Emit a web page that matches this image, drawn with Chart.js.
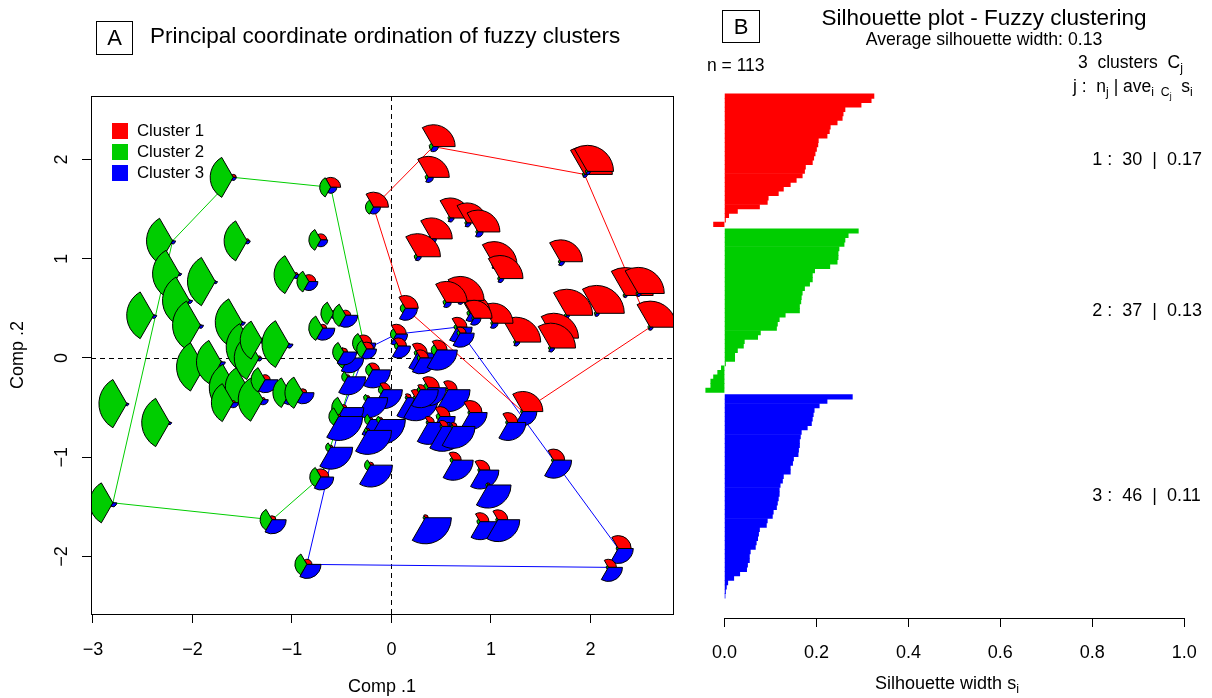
<!DOCTYPE html>
<html>
<head>
<meta charset="utf-8">
<title>Fuzzy clusters</title>
<script src="https://cdn.jsdelivr.net/npm/chart.js@4.4.1/dist/chart.umd.min.js"></script>
<style>
  html, body { margin: 0; padding: 0; background: #fff; }
  #page { position: relative; width: 1212px; height: 698px; overflow: hidden;
          font-family: "Liberation Sans", Arial, Helvetica, sans-serif; color: #000; }
  canvas { position: absolute; top: 0; }
  #ordChart { left: 0; }
  #silChart { left: 690px; }
  .lbl { position: absolute; white-space: pre; line-height: 1; }
  .panelTag { position: absolute; box-sizing: border-box; border: 1px solid #000;
              text-align: center; font-size: 22px; }
  sub { font-size: 70%; vertical-align: -0.3em; line-height: 0; }
  #legend { position: absolute; left: 112px; top: 120px; }
  .legRow { display: flex; align-items: center; height: 21.3px; font-size: 16.8px; }
  .legSwatch { width: 16px; height: 16px; margin-right: 9px; }
</style>
</head>
<body>
<div id="page">
  <canvas id="ordChart" width="690" height="698"></canvas>
  <canvas id="silChart" width="522" height="698"></canvas>

  <div class="panelTag" style="left:96px;top:21px;width:37px;height:34px;line-height:32px;">A</div>
  <div class="lbl" style="left:150px;top:25px;font-size:22.5px;">Principal coordinate ordination of fuzzy clusters</div>
  <div id="legend"></div>

  <div class="panelTag" style="left:722px;top:10px;width:38px;height:33px;line-height:31px;">B</div>
  <div class="lbl" style="left:684px;width:600px;text-align:center;top:7px;font-size:22.5px;">Silhouette plot - Fuzzy clustering</div>
  <div class="lbl" id="avgWidth" style="left:684px;width:600px;text-align:center;top:31px;font-size:17.7px;"></div>
  <div class="lbl" id="nCount" style="left:707px;top:57px;font-size:17.5px;"></div>
  <div class="lbl" id="kCount" style="left:1078px;top:54px;font-size:17.5px;"></div>
  <div class="lbl" style="left:1073px;top:78px;font-size:17.5px;">j :  n<sub>j</sub> | ave<sub>i  C<sub>j</sub></sub>  s<sub>i</sub></div>
  <div class="lbl" style="left:747px;width:400px;text-align:center;top:674px;font-size:18px;">Silhouette width s<sub>i</sub></div>
</div>

<script>
const clusterNames = ['Cluster 1', 'Cluster 2', 'Cluster 3'];
const clusterColors = ['#ff0000', '#00cd00', '#0000ff'];

// sites on the first two principal coordinates, grouped by hard cluster
const ptX = [
  0.42, 0.37, 1.94, 1.97, -0.18, 0.59, 0.76, 0.87, 0.40, 0.26,
  1.03, 1.09, 1.70, 2.35, 2.48, 2.60, 1.76, 2.06, 1.63, 1.60,
  1.25, 1.02, 0.79, 0.69, 0.55, 0.14, 1.32, 0.83,
  -1.59, -2.20, -2.13, -2.03, -1.92, -1.77, -1.45, -2.39, -1.88, -1.71,
  -1.50, -1.39, -1.33, -1.30, -1.03, -1.56, -1.45, -1.29, -1.59, -1.27,
  -1.02, -0.89, -0.69, -0.58, -0.46, -0.71, -0.96, -0.83, -0.61, -2.66,
  -2.23, -2.80, -1.20, -0.71, -0.28,
  -0.25, 0.05, 0.66, 0.69, 1.63, 2.28, 2.18, -0.85, 0.07, 0.26,
  0.29, 0.46, -0.43, -0.48, -0.19, -0.44, -0.08, -0.24, -0.21, -0.11,
  -0.48, -0.46, 0.16, 0.24, 0.37, 0.57, 0.49, 0.79, 1.17, 0.62,
  0.89, 0.97, 0.34, 0.89, 1.07, -0.21, -0.61, 0.37, 0.51, 0.62,
  -0.53, -0.24, 0.29
];
const ptY = [
  2.13, 1.82, 1.85, 1.88, 1.52, 1.41, 1.36, 1.27, 1.20, 1.02,
  0.94, 0.80, 0.97, 0.63, 0.65, 0.31, 0.43, 0.45, 0.20, 0.10,
  0.16, 0.35, 0.45, 0.58, 0.56, 0.50, -0.54, 0.40,
  1.82, 1.18, 0.85, 0.58, 0.33, 0.77, 1.18, 0.43, -0.09, -0.04,
  0.36, 0.11, 0.00, 0.18, 0.14, -0.30, -0.29, -0.42, -0.45, -0.22,
  -0.35, -0.35, 0.30, 0.45, 0.43, 1.19, 0.84, 0.77, 1.72, -0.46,
  -0.65, -1.46, -1.63, -1.20, 0.15,
  0.09, 0.24, 0.31, 0.25, -1.03, -1.92, -2.11, -2.08, 0.12, 0.05,
  0.00, 0.08, 0.00, 0.06, -0.12, -0.19, -0.32, -0.40, -0.62, -0.62,
  -0.50, -0.62, -0.40, -0.40, -0.30, -0.32, -0.59, -0.55, -0.65, -1.03,
  -1.13, -1.28, -1.61, -1.65, -1.63, -1.08, -0.90, -0.65, -0.69, -0.69,
  -0.59, -0.73, -0.32
];
// fuzzy memberships drawn as segment glyphs
const memRed = [
  0.73, 0.70, 0.93, 0.87, 0.50, 0.67, 0.67, 0.73, 0.70, 0.77,
  0.77, 0.77, 0.73, 0.93, 0.87, 0.87, 0.87, 0.93, 0.83, 0.83,
  0.83, 0.67, 0.67, 0.80, 0.70, 0.43, 0.67, 0.60,
  0.10, 0.03, 0.03, 0.03, 0.03, 0.03, 0.07, 0.03, 0.03, 0.03,
  0.03, 0.03, 0.07, 0.07, 0.03, 0.07, 0.07, 0.07, 0.07, 0.17,
  0.10, 0.13, 0.13, 0.10, 0.17, 0.20, 0.07, 0.23, 0.33, 0.03,
  0.03, 0.03, 0.13, 0.27, 0.27,
  0.23, 0.33, 0.33, 0.20, 0.37, 0.43, 0.27, 0.17, 0.27, 0.33,
  0.27, 0.33, 0.17, 0.13, 0.23, 0.07, 0.23, 0.07, 0.07, 0.07,
  0.10, 0.07, 0.13, 0.27, 0.37, 0.30, 0.33, 0.40, 0.33, 0.27,
  0.33, 0.07, 0.10, 0.30, 0.33, 0.10, 0.07, 0.20, 0.20, 0.13,
  0.07, 0.07, 0.17
];
const memGreen = [
  0.13, 0.10, 0.07, 0.07, 0.27, 0.07, 0.07, 0.07, 0.10, 0.10,
  0.07, 0.07, 0.07, 0.07, 0.07, 0.07, 0.07, 0.07, 0.07, 0.07,
  0.07, 0.07, 0.10, 0.07, 0.10, 0.17, 0.07, 0.07,
  0.77, 0.87, 0.90, 0.90, 0.93, 0.93, 0.77, 0.90, 0.93, 0.83,
  0.90, 0.90, 0.83, 0.73, 0.90, 0.90, 0.73, 0.83, 0.73, 0.47,
  0.57, 0.60, 0.47, 0.43, 0.43, 0.40, 0.73, 0.40, 0.37, 0.93,
  0.93, 0.77, 0.40, 0.37, 0.37,
  0.33, 0.20, 0.10, 0.10, 0.07, 0.07, 0.07, 0.40, 0.13, 0.10,
  0.10, 0.20, 0.40, 0.37, 0.23, 0.20, 0.17, 0.13, 0.20, 0.13,
  0.40, 0.13, 0.07, 0.07, 0.17, 0.07, 0.13, 0.07, 0.07, 0.10,
  0.07, 0.07, 0.07, 0.10, 0.07, 0.20, 0.17, 0.07, 0.07, 0.07,
  0.33, 0.10, 0.10
];
const memBlue = [
  0.17, 0.17, 0.10, 0.10, 0.23, 0.13, 0.13, 0.17, 0.17, 0.13,
  0.13, 0.13, 0.13, 0.07, 0.10, 0.10, 0.10, 0.10, 0.13, 0.13,
  0.13, 0.17, 0.27, 0.13, 0.17, 0.40, 0.47, 0.23,
  0.10, 0.10, 0.07, 0.10, 0.10, 0.07, 0.10, 0.10, 0.10, 0.13,
  0.10, 0.10, 0.10, 0.10, 0.13, 0.17, 0.13, 0.17, 0.17, 0.43,
  0.40, 0.37, 0.40, 0.17, 0.40, 0.23, 0.13, 0.30, 0.20, 0.07,
  0.07, 0.13, 0.47, 0.43, 0.40,
  0.33, 0.37, 0.50, 0.47, 0.60, 0.50, 0.47, 0.47, 0.40, 0.57,
  0.53, 0.67, 0.50, 0.43, 0.60, 0.60, 0.63, 0.67, 0.57, 0.83,
  0.67, 0.53, 0.70, 0.77, 0.60, 0.73, 0.50, 0.57, 0.60, 0.67,
  0.63, 0.77, 0.87, 0.60, 0.73, 0.73, 0.73, 0.73, 0.83, 0.73,
  0.80, 0.80, 0.60
];
const ptCluster = [
  1, 1, 1, 1, 1, 1, 1, 1, 1, 1,
  1, 1, 1, 1, 1, 1, 1, 1, 1, 1,
  1, 1, 1, 1, 1, 1, 1, 1,
  2, 2, 2, 2, 2, 2, 2, 2, 2, 2,
  2, 2, 2, 2, 2, 2, 2, 2, 2, 2,
  2, 2, 2, 2, 2, 2, 2, 2, 2, 2,
  2, 2, 2, 2, 2,
  3, 3, 3, 3, 3, 3, 3, 3, 3, 3,
  3, 3, 3, 3, 3, 3, 3, 3, 3, 3,
  3, 3, 3, 3, 3, 3, 3, 3, 3, 3,
  3, 3, 3, 3, 3, 3, 3, 3, 3, 3,
  3, 3, 3
];
// convex hull of each cluster, as site indices
const hull1 = [0, 2, 15, 26, 25, 4, 0];
const hull2 = [28, 56, 62, 61, 60, 59, 29, 28];
const hull3 = [70, 83, 63, 64, 65, 67, 68, 69, 70];

const ordTicksX = [-3, -2, -1, 0, 1, 2];
const ordTicksY = [-2, -1, 0, 1, 2];

// silhouette widths, sorted within each cluster
const sil1 = [0.325, 0.319, 0.297, 0.262, 0.258, 0.256, 0.245, 0.230, 0.228, 0.223,
  0.204, 0.203, 0.200, 0.197, 0.194, 0.191, 0.176, 0.174, 0.169, 0.156,
  0.143, 0.128, 0.117, 0.095, 0.093, 0.076, 0.028, 0.009, 0.002, -0.024];
const sil2 = [0.291, 0.269, 0.262, 0.260, 0.249, 0.247, 0.247, 0.245, 0.229, 0.196,
  0.191, 0.191, 0.185, 0.174, 0.169, 0.167, 0.166, 0.163, 0.163, 0.132,
  0.119, 0.115, 0.113, 0.078, 0.072, 0.043, 0.041, 0.028, 0.022, 0.022,
  0.002, -0.007, -0.015, -0.024, -0.030, -0.030, -0.041];
const sil3 = [0.278, 0.223, 0.206, 0.195, 0.193, 0.191, 0.189, 0.180, 0.167, 0.165,
  0.163, 0.163, 0.161, 0.160, 0.150, 0.148, 0.143, 0.143, 0.128, 0.126,
  0.121, 0.119, 0.119, 0.117, 0.115, 0.113, 0.106, 0.104, 0.093, 0.091,
  0.076, 0.074, 0.072, 0.069, 0.067, 0.056, 0.054, 0.054, 0.050, 0.048,
  0.033, 0.020, 0.007, 0.004, 0.002, 0.001];
const silTicks = [0, 0.2, 0.4, 0.6, 0.8, 1.0];

const GLYPH_R = 30;      // pixel radius of a membership of 1
const FONT = '"Liberation Sans", Arial, Helvetica, sans-serif';

Chart.defaults.font.family = FONT;
Chart.defaults.color = '#000';
Chart.defaults.animation = false;

function minus(v) {
  return v < 0 ? '\u2212' + Math.abs(v) : String(v);
}

// legend
document.getElementById('legend').innerHTML = clusterNames.map((n, i) =>
  `<div class="legRow"><div class="legSwatch" style="background:${clusterColors[i]}"></div>${n}</div>`
).join('');

// ---------- panel A ----------
const siteSets = clusterNames.map((name, c) => {
  const idx = ptX.map((_, i) => i).filter(i => ptCluster[i] === c + 1);
  return {
    label: name,
    data: idx.map(i => ({ x: ptX[i], y: ptY[i] })),
    siteIndex: idx,
    pointRadius: 0,
    pointHoverRadius: 0
  };
});
const hullSets = [hull1, hull2, hull3].map((h, c) => ({
  label: 'hull ' + (c + 1),
  data: h.map(i => ({ x: ptX[i], y: ptY[i] })),
  showLine: true,
  borderColor: clusterColors[c],
  borderWidth: 1,
  pointRadius: 0,
  tension: 0
}));
const drawOrder = [4, 3, 5];   // cluster 2, then 1, then 3

const glyphPlugin = {
  id: 'glyphs',
  beforeDatasetsDraw(chart) {
    const { ctx, chartArea: a, scales } = chart;
    const x0 = Math.round(scales.x.getPixelForValue(0)) + 0.5;
    const y0 = Math.round(scales.y.getPixelForValue(0)) + 0.5;
    ctx.save();
    ctx.strokeStyle = '#000';
    ctx.lineWidth = 1;
    ctx.setLineDash([5, 4]);
    ctx.beginPath();
    ctx.moveTo(a.left, y0); ctx.lineTo(a.right, y0);
    ctx.moveTo(x0, a.top); ctx.lineTo(x0, a.bottom);
    ctx.stroke();
    ctx.restore();
  },
  afterDatasetsDraw(chart) {
    const { ctx, chartArea: a } = chart;
    ctx.save();
    ctx.beginPath();
    ctx.rect(a.left, a.top, a.width, a.height);
    ctx.clip();
    ctx.lineWidth = 1;
    ctx.strokeStyle = '#000';
    ctx.lineJoin = 'round';
    const seg = 2 * Math.PI / 3;
    drawOrder.forEach(di => {
      const ds = chart.data.datasets[di];
      chart.getDatasetMeta(di).data.forEach((el, j) => {
        const i = ds.siteIndex[j];
        [memRed[i], memGreen[i], memBlue[i]].forEach((m, s) => {
          const start = -s * seg;
          ctx.beginPath();
          ctx.moveTo(el.x, el.y);
          ctx.arc(el.x, el.y, m * GLYPH_R, start, start - seg, true);
          ctx.closePath();
          ctx.fillStyle = clusterColors[s];
          ctx.fill();
          ctx.stroke();
        });
      });
    });
    ctx.restore();
  },
  afterDraw(chart) {
    const { ctx, chartArea: a } = chart;
    ctx.save();
    ctx.strokeStyle = '#000';
    ctx.lineWidth = 1;
    ctx.strokeRect(Math.round(a.left) + 0.5, Math.round(a.top) + 0.5,
                   Math.round(a.width), Math.round(a.height));
    ctx.restore();
  }
};

new Chart(document.getElementById('ordChart'), {
  type: 'scatter',
  data: { datasets: hullSets.concat(siteSets) },
  options: {
    responsive: false,
    events: [],
    layout: { padding: { top: 96, right: 17, left: 0, bottom: 0 } },
    plugins: { legend: { display: false }, tooltip: { enabled: false } },
    scales: {
      x: {
        type: 'linear', min: -3.02, max: 2.83,
        afterBuildTicks: s => { s.ticks = ordTicksX.map(v => ({ value: v })); },
        afterFit: s => { s.height = 84; },
        grid: { drawOnChartArea: false, drawTicks: true, tickLength: 9, color: '#000' },
        border: { display: false },
        ticks: { padding: 16, font: { size: 18 }, maxRotation: 0, autoSkip: false, callback: v => minus(v) },
        title: { display: true, text: 'Comp .1', font: { size: 18 }, padding: { top: 0, bottom: 0 } }
      },
      y: {
        type: 'linear', min: -2.58, max: 2.64,
        afterBuildTicks: s => { s.ticks = ordTicksY.map(v => ({ value: v })); },
        afterFit: s => { s.width = 91; },
        grid: { drawOnChartArea: false, drawTicks: true, tickLength: 9, color: '#000' },
        border: { display: false },
        ticks: { padding: 10, font: { size: 18 }, minRotation: 90, maxRotation: 90,
                 crossAlign: 'center', autoSkip: false, callback: v => minus(v) },
        title: { display: true, text: 'Comp .2', font: { size: 18 }, padding: { top: 7, bottom: 0 } }
      }
    }
  },
  plugins: [glyphPlugin]
});

// ---------- panel B ----------
const silGroups = [sil1, sil2, sil3];
const silStarts = [];
let pos = 0;
silGroups.forEach((g, c) => {
  silStarts.push(pos);
  pos += g.length + 0.5;
});
const silPoints = [];
const silColors = [];
silGroups.forEach((g, c) => {
  g.forEach((v, k) => {
    silPoints.push({ x: v, y: silStarts[c] + k });
    silColors.push(clusterColors[c]);
  });
});
const nTotal = silPoints.length;
const avgAll = silPoints.reduce((s, p) => s + p.x, 0) / nTotal;
document.getElementById('avgWidth').textContent = 'Average silhouette width: ' + avgAll.toFixed(2);
document.getElementById('nCount').textContent = 'n = ' + nTotal;
document.getElementById('kCount').innerHTML = silGroups.length + '  clusters  C<sub>j</sub>';

const silPlugin = {
  id: 'silStats',
  afterDraw(chart) {
    const { ctx, chartArea: a, scales: { x, y } } = chart;
    ctx.save();
    ctx.strokeStyle = '#000';
    ctx.lineWidth = 1;
    const yy = Math.round(a.bottom) + 0.5;
    ctx.beginPath();
    ctx.moveTo(x.getPixelForValue(silTicks[0]), yy);
    ctx.lineTo(x.getPixelForValue(silTicks[silTicks.length - 1]), yy);
    ctx.stroke();
    ctx.font = '18px ' + FONT;
    ctx.fillStyle = '#000';
    ctx.textBaseline = 'middle';
    ctx.textAlign = 'left';
    silGroups.forEach((g, c) => {
      const mid = silStarts[c] + (g.length - 1) / 2;
      const avg = g.reduce((s, v) => s + v, 0) / g.length;
      ctx.fillText(`${c + 1} :  ${g.length}  |  ${avg.toFixed(2)}`,
                   x.getPixelForValue(0.8), y.getPixelForValue(mid));
    });
    ctx.restore();
  }
};

new Chart(document.getElementById('silChart'), {
  type: 'bar',
  data: {
    datasets: [{
      data: silPoints,
      backgroundColor: silColors,
      borderWidth: 0,
      barPercentage: 1,
      categoryPercentage: 1
    }]
  },
  options: {
    indexAxis: 'y',
    responsive: false,
    events: [],
    layout: { padding: { left: 7, right: 8, top: 74, bottom: 0 } },
    plugins: { legend: { display: false }, tooltip: { enabled: false } },
    scales: {
      x: {
        type: 'linear', min: -0.06, max: 1.04,
        afterBuildTicks: s => { s.ticks = silTicks.map(v => ({ value: v })); },
        afterFit: s => { s.height = 80; },
        grid: { drawOnChartArea: false, drawTicks: true, tickLength: 9, color: '#000' },
        border: { display: false },
        ticks: { padding: 15, font: { size: 18 }, maxRotation: 0, autoSkip: false, callback: v => v.toFixed(1) }
      },
      y: { type: 'linear', min: -5, max: 118, reverse: true, offset: false, grace: 0, display: false }
    }
  },
  plugins: [silPlugin]
});
</script>
</body>
</html>
